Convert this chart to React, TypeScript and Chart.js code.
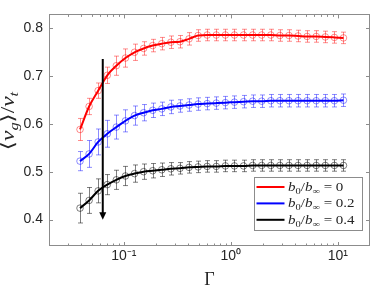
import { useEffect, useRef } from 'react';
import { Chart, registerables } from 'chart.js';

Chart.register(...registerables);

// ---------------- data ----------------
const gamma = [0.039, 0.0474, 0.0576, 0.0701, 0.0852, 0.1036, 0.126, 0.1532, 0.1863, 0.2265, 0.2754, 0.3348, 0.4072, 0.4951, 0.602, 0.732, 0.8901, 1.0822, 1.3157, 1.5999, 1.9454, 2.3652, 2.876, 3.4977, 4.2522, 5.1701, 6.2863, 7.6438, 9.2935, 11.3];

const meanB0 = [0.588, 0.636, 0.669, 0.701, 0.721, 0.737, 0.749, 0.757, 0.763, 0.767, 0.770, 0.771, 0.777, 0.784, 0.785, 0.785, 0.785, 0.785, 0.785, 0.785, 0.785, 0.785, 0.784, 0.784, 0.783, 0.782, 0.782, 0.781, 0.780, 0.779];
const errB0 = [0.023, 0.017, 0.016, 0.017, 0.020, 0.019, 0.017, 0.014, 0.013, 0.013, 0.013, 0.013, 0.013, 0.012, 0.012, 0.012, 0.012, 0.012, 0.012, 0.012, 0.012, 0.012, 0.012, 0.012, 0.012, 0.012, 0.012, 0.012, 0.012, 0.012];

const meanB02 = [0.522, 0.537, 0.562, 0.579, 0.593, 0.606, 0.617, 0.623, 0.628, 0.631, 0.635, 0.637, 0.639, 0.641, 0.642, 0.643, 0.644, 0.645, 0.646, 0.647, 0.647, 0.648, 0.648, 0.648, 0.648, 0.648, 0.648, 0.648, 0.648, 0.649];
const errB02 = [0.020, 0.028, 0.027, 0.028, 0.025, 0.023, 0.020, 0.017, 0.015, 0.014, 0.014, 0.013, 0.013, 0.013, 0.013, 0.013, 0.013, 0.013, 0.013, 0.013, 0.013, 0.013, 0.013, 0.013, 0.013, 0.013, 0.013, 0.013, 0.013, 0.013];

const meanB04 = [0.424, 0.440, 0.460, 0.473, 0.483, 0.491, 0.496, 0.500, 0.502, 0.504, 0.506, 0.507, 0.509, 0.510, 0.511, 0.511, 0.512, 0.512, 0.512, 0.513, 0.513, 0.513, 0.513, 0.513, 0.513, 0.513, 0.513, 0.513, 0.513, 0.513];
const errB04 = [0.031, 0.027, 0.025, 0.021, 0.020, 0.020, 0.018, 0.016, 0.015, 0.014, 0.013, 0.012, 0.012, 0.012, 0.012, 0.012, 0.012, 0.012, 0.012, 0.012, 0.012, 0.012, 0.012, 0.012, 0.012, 0.012, 0.012, 0.012, 0.012, 0.012];

const seriesValues = ['0', '0.2', '0.4'];
const yTickValues = [0.4, 0.5, 0.6, 0.7, 0.8];
const xTickValues = [0.1, 1, 10];
const xTickLabels = ['10⁻¹', '10⁰', '10¹'];

const arrowGamma = 0.0636;
const arrowFrom = 0.735;
const arrowTo = 0.4;

// ---------------- styling ----------------
const series = [
  { value: seriesValues[0], mean: meanB0, err: errB0, color: '#ff0000', light: 'rgba(255,0,0,0.45)' },
  { value: seriesValues[1], mean: meanB02, err: errB02, color: '#0000ff', light: 'rgba(0,0,255,0.45)' },
  { value: seriesValues[2], mean: meanB04, err: errB04, color: '#000000', light: 'rgba(0,0,0,0.5)' },
];

const AXIS_COLOR = '#8c8c8c';
const TEXT_COLOR = '#262626';
const SERIF = '"Liberation Serif", "DejaVu Serif", serif';

type Part = { t: string; it?: boolean; sub?: boolean };

function drawParts(ctx: CanvasRenderingContext2D, parts: Part[], size: number, measureOnly = false): number {
  let x = 0;
  for (const p of parts) {
    const fs = p.sub ? size * 0.7 : size;
    ctx.font = `${p.it ? 'italic ' : ''}${fs}px ${SERIF}`;
    const w = ctx.measureText(p.t).width;
    if (!measureOnly) ctx.fillText(p.t, x, p.sub ? size * 0.22 : 0);
    x += w;
  }
  return x;
}

const errorBarPlugin = {
  id: 'errorBars',
  beforeDatasetsDraw(chart: any) {
    const ctx = chart.ctx as CanvasRenderingContext2D;
    const xs = chart.scales.x;
    const ys = chart.scales.y;
    ctx.save();
    ctx.lineWidth = 1;
    for (const s of series) {
      ctx.strokeStyle = s.light;
      for (let i = 0; i < gamma.length; i++) {
        const px = Math.round(xs.getPixelForValue(gamma[i])) + 0.5;
        const top = ys.getPixelForValue(s.mean[i] + s.err[i]);
        const bot = ys.getPixelForValue(s.mean[i] - s.err[i]);
        ctx.beginPath();
        ctx.moveTo(px, top);
        ctx.lineTo(px, bot);
        ctx.moveTo(px - 2.5, top);
        ctx.lineTo(px + 2.5, top);
        ctx.moveTo(px - 2.5, bot);
        ctx.lineTo(px + 2.5, bot);
        ctx.stroke();
      }
    }
    ctx.restore();
  },
};

const decorPlugin = {
  id: 'decor',
  afterDraw(chart: any) {
    const ctx = chart.ctx as CanvasRenderingContext2D;
    const a = chart.chartArea;
    const xs = chart.scales.x;
    const ys = chart.scales.y;
    ctx.save();

    // arrow
    const ax = xs.getPixelForValue(arrowGamma);
    const ay0 = ys.getPixelForValue(arrowFrom);
    const ay1 = ys.getPixelForValue(arrowTo);
    ctx.strokeStyle = '#000';
    ctx.fillStyle = '#000';
    ctx.lineWidth = 2;
    ctx.beginPath();
    ctx.moveTo(ax, ay0);
    ctx.lineTo(ax, ay1 - 6);
    ctx.stroke();
    ctx.beginPath();
    ctx.moveTo(ax - 3.5, ay1 - 7.5);
    ctx.lineTo(ax + 3.5, ay1 - 7.5);
    ctx.lineTo(ax, ay1);
    ctx.closePath();
    ctx.fill();

    // box
    ctx.strokeStyle = AXIS_COLOR;
    ctx.lineWidth = 1;
    ctx.strokeRect(Math.round(a.left) + 0.5, Math.round(a.top) + 0.5, Math.round(a.right - a.left) - 1, Math.round(a.bottom - a.top) - 1);

    // ticks (inward, mirrored)
    ctx.beginPath();
    for (const v of yTickValues) {
      const py = Math.round(ys.getPixelForValue(v)) + 0.5;
      ctx.moveTo(a.left, py); ctx.lineTo(a.left + 4, py);
      ctx.moveTo(a.right, py); ctx.lineTo(a.right - 4, py);
    }
    const xmin = xs.min, xmax = xs.max;
    for (let e = -2; e <= 1; e++) {
      for (let k = 1; k <= 9; k++) {
        const v = k * Math.pow(10, e);
        if (v <= xmin || v >= xmax) continue;
        const len = k === 1 ? 4 : 2.5;
        const px = Math.round(xs.getPixelForValue(v)) + 0.5;
        ctx.moveTo(px, a.bottom); ctx.lineTo(px, a.bottom - len);
        ctx.moveTo(px, a.top); ctx.lineTo(px, a.top + len);
      }
    }
    ctx.stroke();

    // y title
    ctx.fillStyle = TEXT_COLOR;
    const yParts: Part[] = [
      { t: '⟨' }, { t: 'ν', it: true }, { t: 'g', it: true, sub: true }, { t: '⟩' },
      { t: '/' }, { t: 'ν', it: true }, { t: 't', it: true, sub: true },
    ];
    const ySize = 18;
    const yw = drawParts(ctx, yParts, ySize, true);
    const yStretch = Math.min(1.3, 66 / yw);
    ctx.save();
    ctx.translate(14, 121);
    ctx.rotate(-Math.PI / 2);
    ctx.scale(yStretch, 1);
    ctx.translate(-yw / 2, 0);
    ctx.textBaseline = 'alphabetic';
    drawParts(ctx, yParts, ySize);
    ctx.restore();

    // x title
    ctx.font = `18px ${SERIF}`;
    ctx.textAlign = 'center';
    ctx.textBaseline = 'alphabetic';
    ctx.fillText('Γ', (a.left + a.right) / 2, 285);
    ctx.textAlign = 'left';

    // legend
    const boxW = 108, boxH = 53;
    const bx = Math.round(a.right - 8 - boxW) + 0.5;
    const by = Math.round(a.bottom - 16 - boxH) + 0.5;
    ctx.fillStyle = '#ffffff';
    ctx.fillRect(bx, by, boxW, boxH);
    ctx.strokeStyle = AXIS_COLOR;
    ctx.lineWidth = 1;
    ctx.strokeRect(bx, by, boxW, boxH);
    series.forEach((s, i) => {
      const ry = by + 9.5 + i * 16.4;
      ctx.strokeStyle = s.color;
      ctx.lineWidth = 2;
      ctx.beginPath();
      ctx.moveTo(bx + 2, ry);
      ctx.lineTo(bx + 30, ry);
      ctx.stroke();
      ctx.fillStyle = TEXT_COLOR;
      ctx.save();
      ctx.translate(bx + 33.5, ry + 4);
      ctx.scale(1.2, 1);
      ctx.textBaseline = 'alphabetic';
      drawParts(ctx, [
        { t: 'b', it: true }, { t: '0', sub: true }, { t: '/' }, { t: 'b', it: true },
        { t: '∞', sub: true }, { t: ' = ' + s.value },
      ], 12.5);
      ctx.restore();
    });

    ctx.restore();
  },
};

export default function App() {
  const ref = useRef<HTMLCanvasElement | null>(null);

  useEffect(() => {
    document.body.style.margin = '0';
    const canvas = ref.current;
    if (!canvas) return;

    const datasets: any[] = [];
    series.forEach((s) => {
      const pts = gamma.map((g, i) => ({ x: g, y: s.mean[i] }));
      datasets.push({
        label: 'b0/b∞ = ' + s.value,
        data: pts,
        borderColor: s.color,
        borderWidth: 2,
        pointRadius: 0,
        cubicInterpolationMode: 'monotone',
        fill: false,
        order: 1,
      });
      datasets.push({
        label: 'markers ' + s.value,
        data: pts,
        showLine: false,
        pointRadius: 3.3,
        pointBorderWidth: 1,
        pointBorderColor: s.light,
        pointBackgroundColor: 'rgba(0,0,0,0)',
        order: 2,
      });
    });

    const chart = new Chart(canvas, {
      type: 'line',
      data: { datasets },
      options: {
        animation: false,
        responsive: false,
        maintainAspectRatio: false,
        layout: { padding: { top: 3, right: 3, left: 0, bottom: 0 } },
        plugins: { legend: { display: false }, tooltip: { enabled: false } },
        scales: {
          x: {
            type: 'logarithmic',
            min: 0.02,
            max: 20,
            grid: { display: false, drawTicks: false },
            border: { display: false },
            afterBuildTicks: (scale: any) => {
              scale.ticks = xTickValues.map((v) => ({ value: v }));
            },
            afterFit: (scale: any) => {
              scale.height = 41;
            },
            ticks: {
              autoSkip: false,
              maxRotation: 0,
              padding: 2,
              color: TEXT_COLOR,
              font: { family: '"Liberation Sans", Arial, sans-serif', size: 14 },
              callback: (v: any) => {
                const idx = xTickValues.findIndex((t) => Math.abs(t - Number(v)) < 1e-9);
                return idx >= 0 ? xTickLabels[idx] : '';
              },
            },
          },
          y: {
            type: 'linear',
            min: 0.345,
            max: 0.828,
            grid: { display: false, drawTicks: false },
            border: { display: false },
            afterBuildTicks: (scale: any) => {
              scale.ticks = yTickValues.map((v) => ({ value: v }));
            },
            afterFit: (scale: any) => {
              scale.width = 49;
            },
            ticks: {
              autoSkip: false,
              padding: 6,
              color: TEXT_COLOR,
              font: { family: '"Liberation Sans", Arial, sans-serif', size: 14 },
              callback: (v: any) => Number(v).toFixed(1),
            },
          },
        },
      },
      plugins: [errorBarPlugin, decorPlugin],
    });

    return () => chart.destroy();
  }, []);

  return (
    <div style={{ width: 375, height: 287 }}>
      <canvas ref={ref} width={375} height={287} style={{ display: 'block', width: 375, height: 287 }} />
    </div>
  );
}
